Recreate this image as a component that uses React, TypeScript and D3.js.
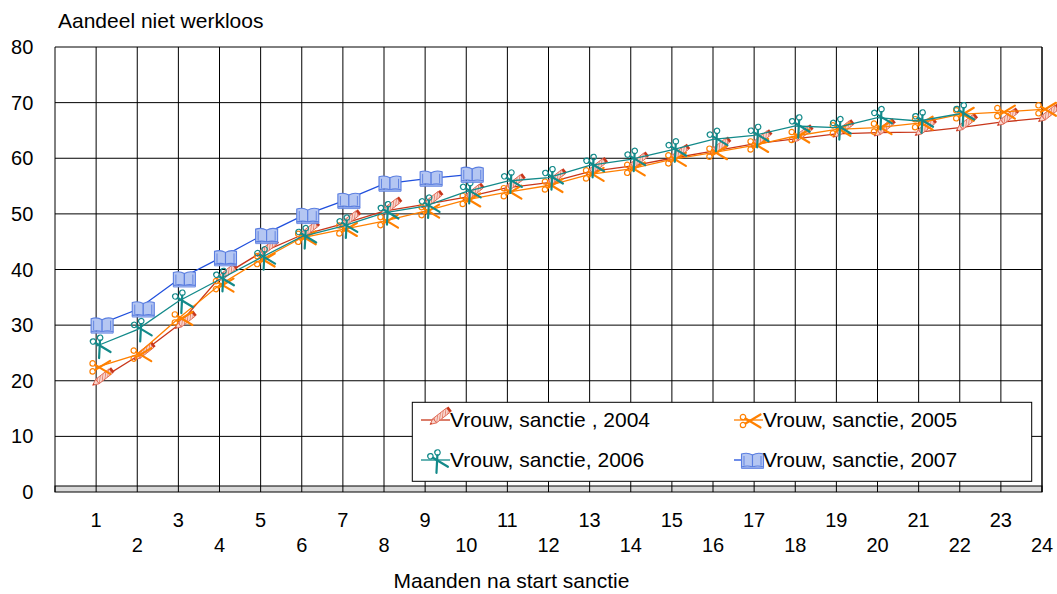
import React from "react";
import * as d3 from "d3";

const months = d3.range(1, 25);
const xTickLabels = months.map(String);
const yTicks = [0, 10, 20, 30, 40, 50, 60, 70, 80];

const series2004 = [19.8, 24.4, 30.0, 38.5, 43.0, 46.2, 48.2, 50.5, 51.7, 53.0, 54.7, 55.6, 57.6, 58.6, 60.0, 61.3, 62.6, 63.5, 64.4, 64.6, 64.7, 65.5, 66.5, 67.2];
const series2005 = [22.4, 24.7, 31.2, 37.2, 41.7, 45.7, 47.2, 48.7, 50.5, 52.5, 53.9, 55.1, 57.1, 58.1, 59.8, 61.0, 62.3, 64.0, 65.2, 65.5, 66.3, 67.9, 68.3, 68.8];
const series2006 = [26.2, 29.2, 34.3, 38.2, 42.1, 45.9, 47.8, 50.2, 51.4, 54.0, 55.9, 56.5, 58.7, 59.8, 61.5, 63.4, 64.1, 65.8, 65.5, 67.3, 66.7, 68.0];
const series2007 = [29.9, 32.8, 38.2, 42.0, 46.0, 49.6, 52.3, 55.4, 56.3, 57.0];

const seriesNames = ["Vrouw, sanctie , 2004", "Vrouw, sanctie, 2005", "Vrouw, sanctie, 2006", "Vrouw, sanctie, 2007"];

type MarkerKind = "pencil" | "scissorsH" | "scissorsR" | "book";

const seriesDefs: { name: string; values: number[]; color: string; marker: MarkerKind }[] = [
  { name: seriesNames[0], values: series2004, color: "#C8361A", marker: "pencil" },
  { name: seriesNames[1], values: series2005, color: "#FF8000", marker: "scissorsH" },
  { name: seriesNames[2], values: series2006, color: "#138A8A", marker: "scissorsR" },
  { name: seriesNames[3], values: series2007, color: "#1F4FDD", marker: "book" },
];

const FONT = "'Liberation Sans', Arial, Helvetica, sans-serif";

function Marker({ kind, color, x, y }: { kind: MarkerKind; color: string; x: number; y: number }) {
  if (kind === "pencil") {
    return (
      <g transform={`translate(${x + 6},${y - 4}) rotate(-38)`}>
        <rect x={-6} y={-2.8} width={17} height={5.6} fill="url(#pencilHatch)" stroke="#E06A55" strokeWidth={0.9} />
        <path d="M-6,-2.8 L-12,0 L-6,2.8 Z" fill="#F8D4CC" stroke="#E06A55" strokeWidth={0.9} />
        <path d="M-10,-0.9 L-12,0 L-10,0.9 Z" fill={color} />
        <rect x={11} y={-2.8} width={2.5} height={5.6} fill={color} />
      </g>
    );
  }
  if (kind === "scissorsH" || kind === "scissorsR") {
    const rot = kind === "scissorsH" ? 0 : 62;
    return (
      <g transform={`translate(${x + 4},${y}) rotate(${rot})`}>
        <circle cx={-7.5} cy={-4} r={2.7} fill="none" stroke={color} strokeWidth={1.2} />
        <circle cx={-7.5} cy={4} r={2.7} fill="none" stroke={color} strokeWidth={1.2} />
        <path d="M-5,-2.5 L10,6.5" stroke={color} strokeWidth={2.2} strokeLinecap="round" />
        <path d="M-5,2.5 L10,-6.5" stroke={color} strokeWidth={2.2} strokeLinecap="round" />
      </g>
    );
  }
  // book
  return (
    <g transform={`translate(${x + 6},${y - 1})`}>
      <path d="M0,-5 Q-5,-8 -11,-6 L-11,7 Q-5,5 0,7 Z" fill="#B4C6F2" stroke="#5A7EE0" strokeWidth={1.1} />
      <path d="M0,-5 Q5,-8 11,-6 L11,7 Q5,5 0,7 Z" fill="#B4C6F2" stroke="#5A7EE0" strokeWidth={1.1} />
      <path d="M-8.5,-4 L-8.5,5.5 M8.5,-4 L8.5,5.5" stroke="#5A7EE0" strokeWidth={0.9} />
      <path d="M-11,7 L11,7 L11,8.5 L-11,8.5 Z" fill="#B4C6F2" stroke="#5A7EE0" strokeWidth={0.8} />
    </g>
  );
}

export default function App() {
  const width = 1057;
  const height = 594;
  const left = 55;
  const right = 1042;
  const top = 47;
  const bottom = 492;
  const floorTop = 486;

  const x = d3.scaleLinear().domain([0, 24]).range([left, right]);
  const y = d3.scaleLinear().domain([0, 80]).range([bottom, top]);

  const line = d3
    .line<number>()
    .x((_, i) => x(i + 1))
    .y((d) => y(d));

  const legendX0 = 412.3;
  const legendY0 = 402.3;
  const legendW = 1031.7 - 412.3;
  const legendH = 481.3 - 402.3;
  const legendItems = [
    { s: seriesDefs[0], lx: 421, tx: 450, ly: 420 },
    { s: seriesDefs[1], lx: 734, tx: 763, ly: 420 },
    { s: seriesDefs[2], lx: 421, tx: 450, ly: 460 },
    { s: seriesDefs[3], lx: 734, tx: 763, ly: 460 },
  ];

  return (
    <svg
      width={width}
      height={height}
      style={{ position: "absolute", left: 0, top: 0, background: "#fff" }}
      fontFamily={FONT}
    >
      <defs>
        <pattern id="pencilHatch" width="2.5" height="2.5" patternUnits="userSpaceOnUse" patternTransform="rotate(45)">
          <rect width="2.5" height="2.5" fill="#F8D4CC" />
          <line x1="0" y1="0" x2="0" y2="2.5" stroke="#D84A30" strokeWidth="1" />
        </pattern>
      </defs>
      <rect x={0} y={0} width={width} height={height} fill="#fff" />

      {/* Title */}
      <text x={58} y={27.7} fontSize={21} fill="#000">
        Aandeel niet werkloos
      </text>

      {/* Floor */}
      <rect x={left} y={floorTop} width={right - left} height={bottom - floorTop} fill="#D9D9D9" stroke="#000" strokeWidth={1} />

      {/* Horizontal gridlines */}
      {yTicks.filter((t) => t > 0).map((t) => (
        <line key={`h${t}`} x1={left} x2={right} y1={y(t)} y2={y(t)} stroke="#000" strokeWidth={1} />
      ))}
      {/* Vertical gridlines */}
      {[0, ...months].map((m) => (
        <line key={`v${m}`} x1={x(m)} x2={x(m)} y1={top} y2={bottom} stroke="#000" strokeWidth={1} />
      ))}
      <line x1={right} x2={right} y1={top} y2={bottom} stroke="#000" strokeWidth={1} />

      {/* Y tick labels */}
      {yTicks.map((t) => (
        <text key={`yl${t}`} x={33.3} y={y(t) + 7} textAnchor="end" fontSize={20} fill="#000">
          {t}
        </text>
      ))}

      {/* X tick labels */}
      {months.map((m, i) => (
        <text
          key={`xl${m}`}
          x={x(m)}
          y={m % 2 === 1 ? 527 : 551.5}
          textAnchor="middle"
          fontSize={20}
          fill="#000"
        >
          {xTickLabels[i]}
        </text>
      ))}

      {/* Axis title */}
      <text x={511.5} y={588} textAnchor="middle" fontSize={21} fill="#000">
        Maanden na start sanctie
      </text>

      {/* Series */}
      {seriesDefs.map((s) => (
        <g key={s.name}>
          <path d={line(s.values) ?? ""} fill="none" stroke={s.color} strokeWidth={1.3} />
          {s.values.map((v, i) => (
            <Marker key={i} kind={s.marker} color={s.color} x={x(i + 1)} y={y(v)} />
          ))}
        </g>
      ))}

      {/* Legend */}
      <rect x={legendX0} y={legendY0} width={legendW} height={legendH} fill="#fff" stroke="#000" strokeWidth={1} />
      {legendItems.map(({ s, lx, tx, ly }) => (
        <g key={`lg${s.name}`}>
          <line x1={lx} x2={tx} y1={ly} y2={ly} stroke={s.color} strokeWidth={1.3} />
          <Marker kind={s.marker} color={s.color} x={(lx + tx) / 2 - 2} y={ly + 1} />
          <text x={tx} y={ly + 7.3} fontSize={21} fill="#000">
            {s.name}
          </text>
        </g>
      ))}
    </svg>
  );
}
